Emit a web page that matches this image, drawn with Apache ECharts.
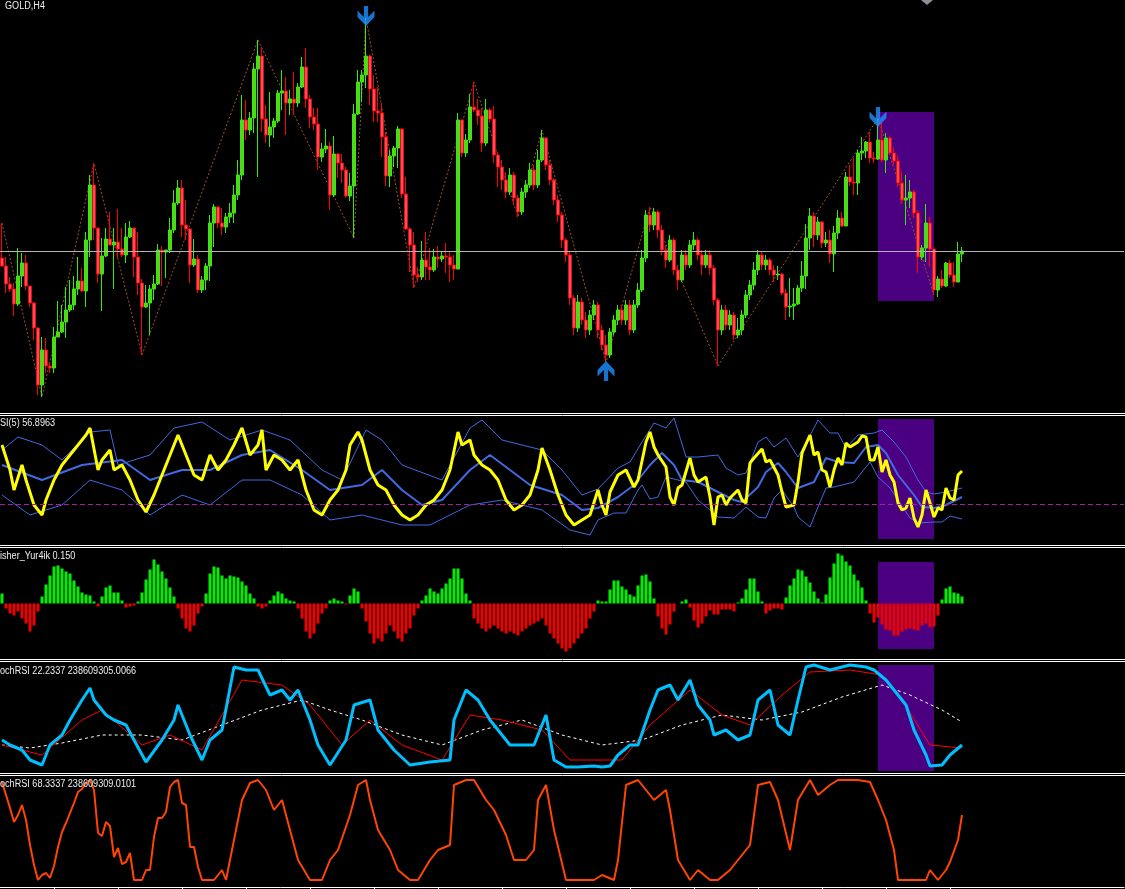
<!DOCTYPE html>
<html>
<head>
<meta charset="utf-8">
<title>GOLD,H4</title>
<script src="https://cdn.jsdelivr.net/npm/echarts/dist/echarts.min.js"></script>
<style>
html, body { margin: 0; padding: 0; background: #000; }
#chart { width: 1125px; height: 889px; }
</style>
</head>
<body>
<div id="chart"></div>
<script>
// bars on the chart + empty slots to the right (chart shift)
var N_BARS = 241;
var N_SLOTS = 281;
var categories = [];
for (var s = 0; s < N_SLOTS; s++) categories.push(String(s));

// --- main window: prices read as rows from the top of the window (0..413)
var MAIN_H = 413;
var firstOpen = 258;
var closeRow = [
  266,284,289,304,276,263,286,303,328,385,
  350,366,368,337,332,322,310,305,289,281,
  291,240,185,228,274,256,239,245,242,249,
  255,237,228,257,283,307,303,289,284,250,
  252,250,230,203,188,225,229,265,259,290,
  280,266,223,207,223,227,217,213,195,175,
  120,130,118,69,56,119,135,127,121,93,
  91,103,99,103,87,67,99,117,124,157,
  149,146,195,154,163,170,196,186,114,82,
  75,56,89,111,113,137,176,156,148,129,
  194,229,245,275,277,260,267,270,257,259,
  256,257,265,269,120,153,140,107,110,116,
  143,110,119,155,167,180,192,175,198,212,
  192,185,170,185,160,138,165,180,200,215,
  240,255,298,328,302,320,330,315,305,330,
  345,355,332,320,310,320,305,330,305,290,
  258,215,225,212,230,250,260,240,270,280,
  255,265,245,240,255,265,255,268,300,330,
  310,325,315,335,330,315,295,285,270,255,
  265,260,270,275,274,293,307,306,304,288,
  276,238,216,235,222,243,240,254,233,218,
  226,177,182,183,153,151,142,158,159,140,
  160,138,153,161,183,200,198,192,213,257,
  248,223,249,290,279,286,263,275,282,254,251
];
var highRow = [
  223,257,277,283,248,253,255,287,302,327,
  337,338,362,327,301,305,287,280,276,257,
  268,232,175,163,228,238,228,212,228,209,
  228,223,221,228,232,279,285,285,275,244,
  246,250,218,190,180,180,200,228,239,255,
  276,263,215,204,206,208,213,203,185,160,
  95,100,112,63,40,47,105,92,118,90,
  70,77,90,72,83,57,48,95,108,108,
  143,129,142,136,153,154,167,173,104,70,
  70,18,55,75,87,103,132,150,146,126,
  128,177,227,232,267,241,232,248,249,246,
  252,243,251,255,113,120,134,94,82,99,
  108,99,108,106,152,160,172,168,172,195,
  188,180,163,165,150,130,138,160,178,195,
  212,238,252,295,295,298,312,310,300,302,
  325,335,328,315,305,305,300,300,300,283,
  250,210,207,208,210,225,245,235,238,265,
  250,250,240,232,238,250,250,250,265,298,
  305,305,310,312,318,310,290,280,262,250,
  252,255,258,265,266,273,289,278,288,285,
  261,224,208,212,217,221,232,230,226,210,
  212,172,165,158,150,137,141,132,152,118,
  122,133,136,147,155,171,175,180,190,210,
  245,204,217,247,276,270,262,260,262,242,247
];
var lowRow = [
  267,293,292,316,306,287,290,307,340,395,
  397,373,373,373,337,333,338,312,310,295,
  292,307,257,240,283,311,257,245,289,258,
  257,263,238,277,295,355,308,335,300,285,
  286,278,253,233,205,237,240,283,267,293,
  293,290,281,247,228,235,233,223,223,200,
  180,140,135,133,177,132,143,147,138,123,
  110,135,115,115,107,88,108,128,130,170,
  162,153,210,197,178,183,198,201,238,115,
  102,88,105,122,122,157,186,187,167,168,
  198,230,272,288,282,280,280,280,272,268,
  262,273,282,280,269,157,157,143,112,125,
  152,146,123,163,187,190,198,195,205,217,
  215,198,188,190,188,162,170,185,205,222,
  248,262,305,335,332,325,338,335,320,338,
  350,362,358,335,325,325,325,335,333,308,
  292,262,232,230,238,255,268,262,275,290,
  282,270,268,250,260,275,268,275,305,366,
  335,330,330,340,338,335,318,300,290,275,
  270,270,275,282,280,295,320,317,320,305,
  292,289,250,247,240,248,247,263,272,239,
  227,224,186,195,195,160,158,163,163,160,
  162,173,155,165,187,204,225,208,218,273,
  260,262,267,295,297,288,287,278,287,281,262
];
// zigzag pivots: bar index, H = high / L = low
var zigzagPivots = [[0,'H'],[10,'L'],[23,'H'],[35,'L'],[64,'H'],[88,'L'],[91,'H'],[103,'L'],
  [118,'H'],[129,'L'],[135,'H'],[151,'L'],[162,'H'],[179,'L'],[219,'H'],[233,'L']];
// signal arrows: bar index, direction, offset in px
var arrowMarks = [[91,'down',-2],[151,'up',9],[219,'down',-1]];
var boxFrom = 219, boxTo = 233;

// --- RSI window (rows 416..545)
var rsiLine = [[0,445],[2,470],[3,490],[5,465],[6,480],[8,505],[10,515],[11,500],[13,480],[15,465],[17,455],[19,445],[21,435],[22,428],[24,470],[25,460],[27,450],[28,470],[30,465],[32,480],[34,500],[36,512],[38,495],[40,475],[42,455],[44,435],[46,455],[48,475],[50,480],[52,455],[54,470],[56,460],[58,445],[60,428],[62,455],[64,445],[65,430],[66,470],[68,455],[70,460],[72,470],[74,460],[76,490],[78,510],[80,515],[82,500],[84,490],[86,470],[87,445],[89,432],[90,440],[92,470],[94,485],[96,490],[98,505],[100,515],[102,520],[104,515],[106,505],[108,500],[110,490],[112,470],[114,432],[115,445],[117,440],[118,455],[120,465],[122,470],[124,480],[126,500],[128,510],[130,505],[132,495],[134,470],[135,448],[137,470],[139,495],[141,515],[143,525],[145,520],[147,515],[149,490],[150,505],[151,515],[152,492],[154,475],[156,470],[158,487],[159,480],[161,442],[162,432],[163,447],[164,455],[166,467],[167,497],[168,505],[169,488],[170,485],[172,458],[173,475],[174,482],[176,477],[177,497],[178,525],[179,497],[180,495],[181,505],[182,498],[184,490],[185,500],[186,503],[187,463],[188,458],[190,449],[191,462],[192,460],[194,475],[195,492],[196,507],[198,505],[199,482],[200,453],[202,435],[203,455],[204,452],[205,470],[206,472],[207,487],[208,470],[209,458],[210,465],[211,443],[212,447],[214,442],[215,436],[216,437],[217,460],[218,460],[219,447],[220,472],[221,460],[222,475],[223,482],[224,503],[225,510],[226,508],[227,498],[228,518],[229,527],[230,515],[231,490],[232,503],[233,517],[234,508],[235,510],[236,488],[237,498],[238,500],[239,475],[240,471]];
var rsiMa = [[0,465],[10,480],[20,465],[30,460],[37,480],[45,470],[52,470],[60,455],[67,450],[75,470],[82,490],[90,485],[95,470],[100,490],[105,505],[110,500],[117,470],[122,455],[127,470],[132,485],[140,495],[145,510],[149,508],[154,497],[158,485],[162,465],[165,453],[168,465],[170,480],[174,482],[179,492],[183,500],[185,502],[189,487],[191,472],[194,463],[196,472],[199,488],[203,482],[206,458],[209,462],[213,463],[216,447],[219,445],[221,453],[224,475],[228,495],[230,507],[233,508],[236,505],[240,497]];
var rsiUpper = [[0,450],[4,437],[10,445],[15,460],[22,432],[27,430],[29,465],[37,455],[43,428],[50,422],[57,440],[65,430],[72,440],[80,470],[85,480],[91,430],[95,440],[100,465],[110,480],[117,428],[120,420],[125,440],[135,450],[140,470],[145,495],[149,489],[154,468],[157,462],[160,442],[163,423],[166,428],[168,418],[171,457],[174,457],[179,455],[181,468],[184,475],[186,473],[189,442],[191,437],[193,447],[196,438],[199,457],[203,428],[204,420],[207,433],[209,433],[211,448],[214,435],[218,433],[220,430],[223,442],[226,457],[229,480],[231,492],[233,494],[236,492],[240,488]];
var rsiLower = [[0,495],[7,515],[15,505],[22,480],[30,490],[37,515],[45,495],[52,505],[60,480],[67,480],[75,495],[82,520],[90,515],[100,525],[107,525],[117,505],[125,500],[135,510],[142,530],[147,535],[149,520],[153,513],[156,513],[159,490],[160,485],[162,499],[164,497],[166,477],[171,482],[174,500],[177,510],[179,517],[183,518],[186,507],[189,517],[191,518],[193,498],[195,490],[198,507],[199,517],[202,527],[204,507],[206,488],[208,487],[213,482],[215,472],[217,462],[219,477],[222,488],[224,500],[227,518],[229,523],[233,522],[235,522],[237,516],[240,519]];
var rsiLevel = 504;

// --- Fisher_Yur4ik histogram (bar heights, px above/below zero)
var fisherBars = [
  10,-5,-10,-12,-8,-15,-20,-28,-22,-8,
  7,19,28,37,38,35,32,30,23,17,
  11,9,8,2,-3,7,16,18,11,11,
  3,-4,-3,-2,2,11,24,34,44,39,
  32,25,16,7,-5,-15,-25,-28,-22,-10,
  -3,10,30,37,36,28,25,28,27,26,
  22,18,10,5,-3,-5,-3,3,8,12,
  10,5,3,2,-5,-15,-28,-35,-30,-20,
  -10,-5,3,5,3,2,-1,8,15,12,
  -5,-18,-30,-40,-35,-38,-30,-22,-28,-35,
  -38,-30,-25,-12,-5,3,8,15,12,10,
  15,20,25,35,35,25,10,3,-15,-20,
  -25,-28,-25,-22,-25,-28,-30,-28,-30,-32,
  -28,-25,-22,-20,-18,-15,-22,-30,-35,-40,
  -45,-48,-45,-40,-35,-30,-25,-15,-8,3,
  2,2,14,23,23,17,14,9,7,18,
  28,29,22,5,-13,-25,-31,-21,-8,0,
  2,4,-4,-17,-24,-20,-13,-7,-11,-11,
  -6,-6,-6,-8,1,5,14,25,25,12,
  2,-10,-7,-5,-5,-6,6,18,25,34,
  33,27,21,12,5,1,9,26,40,50,
  48,42,38,29,23,16,3,-10,-19,-14,
  -21,-26,-27,-32,-32,-28,-26,-25,-26,-27,
  -22,-20,-24,-23,-12,4,15,17,11,10,7
];
var FISHER_SPAN = 55.5;

// --- StochRSI window (rows 662..773)
var stochMain = [[0,740],[2,745],[5,750],[7,760],[10,765],[12,745],[15,735],[17,720],[20,700],[22,688],[23,700],[26,715],[28,720],[31,725],[33,740],[36,762],[40,740],[43,720],[44,705],[47,735],[50,760],[52,740],[55,730],[58,667],[61,670],[64,670],[67,695],[70,690],[72,700],[74,690],[77,720],[79,745],[82,765],[86,740],[88,705],[92,700],[94,730],[98,750],[102,765],[107,762],[112,760],[113,720],[116,690],[119,700],[122,720],[124,730],[127,745],[131,745],[133,745],[136,715],[138,760],[141,767],[144,767],[148,766],[150,767],[152,766],[154,755],[157,745],[159,745],[162,710],[164,690],[167,685],[169,700],[172,680],[174,705],[177,720],[178,735],[181,730],[184,740],[187,735],[189,700],[192,690],[194,725],[197,735],[199,700],[201,667],[203,665],[207,670],[212,665],[216,667],[218,670],[221,680],[223,690],[226,705],[228,730],[231,755],[232,766],[235,765],[237,755],[240,745]];
var stochSignal = [[0,745],[10,755],[20,720],[25,710],[35,745],[42,735],[50,750],[60,680],[70,685],[77,705],[85,745],[92,720],[100,745],[110,760],[117,715],[125,720],[135,730],[142,760],[155,760],[162,725],[172,690],[180,715],[187,725],[195,695],[202,672],[212,670],[220,675],[225,700],[232,745],[240,748]];
var stochSlow = [[0,745],[7,748],[15,743],[25,735],[35,735],[45,740],[55,725],[65,710],[75,700],[82,710],[90,720],[100,735],[110,745],[120,730],[130,720],[140,735],[150,745],[160,740],[170,725],[180,715],[190,720],[200,712],[210,697],[220,685],[227,695],[235,710],[240,722]];

// --- second StochRSI window (rows 776..887)
var stoch2 = [[0,782],[1,795],[2,808],[3,822],[4,815],[5,805],[6,820],[7,845],[8,865],[9,880],[10,875],[11,873],[12,878],[13,866],[14,847],[15,832],[16,823],[17,813],[18,803],[19,792],[20,789],[21,783],[22,780],[23,790],[24,833],[25,836],[26,822],[27,826],[28,857],[29,848],[30,864],[31,862],[32,853],[33,880],[34,880],[35,880],[36,870],[37,870],[38,837],[39,818],[40,818],[41,812],[42,787],[43,782],[44,780],[45,803],[46,805],[47,847],[48,847],[49,867],[50,880],[51,880],[53,880],[55,870],[56,880],[58,840],[60,800],[62,783],[64,780],[66,790],[68,810],[70,800],[72,830],[74,860],[77,880],[80,880],[82,860],[84,850],[87,815],[89,785],[91,780],[92,800],[94,830],[97,850],[99,870],[102,880],[104,880],[107,860],[109,850],[112,845],[113,785],[116,780],[118,780],[121,800],[123,810],[126,835],[128,860],[131,860],[133,850],[134,800],[136,785],[138,830],[141,880],[144,880],[148,880],[150,875],[153,880],[154,860],[156,785],[159,780],[162,795],[163,800],[166,790],[167,810],[169,860],[172,880],[174,870],[177,880],[179,880],[182,870],[184,860],[187,845],[189,785],[192,782],[194,800],[197,850],[199,800],[202,780],[204,795],[207,785],[209,780],[214,780],[217,782],[219,800],[221,820],[223,850],[224,880],[228,880],[231,880],[232,870],[234,880],[236,870],[237,862],[239,840],[240,815]];

// build candles [open, close, low, high] in price units (up = higher)
var candles = [];
for (var i = 0; i < N_BARS; i++) {
  var o = i ? closeRow[i - 1] : firstOpen;
  var c = closeRow[i];
  var h = Math.min(highRow[i], o, c);
  var l = Math.max(lowRow[i], o, c);
  candles.push([MAIN_H - o, MAIN_H - c, MAIN_H - l, MAIN_H - h]);
}
var zigzag = zigzagPivots.map(function (p) {
  return [p[0], MAIN_H - (p[1] === 'H' ? highRow[p[0]] : lowRow[p[0]])];
});
var ARROW_DOWN = 'path://M6,0 L10,0 L10,10 L16,4 L16,10 L8,18 L0,10 L0,4 L6,10 Z';
var ARROW_UP = 'path://M6,18 L10,18 L10,8 L16,14 L16,8 L8,0 L0,8 L0,14 L6,8 Z';
var arrows = arrowMarks.map(function (a) {
  var row = a[1] === 'down' ? highRow[a[0]] : lowRow[a[0]];
  return {
    value: [a[0], MAIN_H - row],
    symbol: a[1] === 'down' ? ARROW_DOWN : ARROW_UP,
    symbolOffset: [0, a[2]]
  };
});

var grids = [
  { top: 0, height: 413 },
  { top: 416, height: 129 },
  { top: 548, height: 111 },
  { top: 662, height: 111 },
  { top: 776, height: 111 }
].map(function (g) { g.left = 0; g.width = 1124; return g; });

var xAxes = grids.map(function (g, k) {
  return {
    type: 'category', gridIndex: k, data: categories, boundaryGap: true,
    show: k === 4,
    axisLine: { show: true, lineStyle: { color: '#ffffff', width: 1 } },
    axisTick: {
      show: true, alignWithLabel: true, length: 3,
      interval: function (idx) { return idx <= 240 && idx % 16 === 13; },
      lineStyle: { color: '#ffffff' }
    },
    axisLabel: { show: false },
    splitLine: { show: false }
  };
});
var yAxes = [
  { gridIndex: 0, type: 'value', min: 0, max: MAIN_H, show: false },
  { gridIndex: 1, type: 'value', min: 416, max: 545, inverse: true, show: false },
  { gridIndex: 2, type: 'value', min: -FISHER_SPAN, max: FISHER_SPAN, show: false },
  { gridIndex: 3, type: 'value', min: 662, max: 773, inverse: true, show: false },
  { gridIndex: 4, type: 'value', min: 776, max: 887, inverse: true, show: false }
];

function boxSeries(k, y1, y2) {
  return {
    type: 'line', xAxisIndex: k, yAxisIndex: k, data: [], z: 1, silent: true,
    markArea: {
      silent: true, itemStyle: { color: '#4b0082' },
      data: [[{ xAxis: boxFrom, yAxis: y1 }, { xAxis: boxTo, yAxis: y2 }]]
    }
  };
}
function lineSeries(k, data, color, width, type, z) {
  return {
    type: 'line', xAxisIndex: k, yAxisIndex: k, data: data,
    showSymbol: false, silent: true, z: z || 3,
    lineStyle: { color: color, width: width, type: type || 'solid' }
  };
}

var noLabel = { show: false };
var labelFont = '10px "Liberation Sans", Arial, sans-serif';
function label(text, x, y) {
  return { type: 'text', x: x, y: y, scaleX: 0.91, z: 100,
    style: { text: text, x: 0, y: 0, fill: '#eeeeee', font: labelFont, verticalAlign: 'top', textVerticalAlign: 'top' } };
}
function sep(y) {
  return { type: 'line', z: 90, shape: { x1: 0, y1: y, x2: 1125, y2: y }, style: { stroke: '#ffffff', lineWidth: 1 } };
}

var option = {
  backgroundColor: '#000000',
  animation: false,
  grid: grids,
  xAxis: xAxes,
  yAxis: yAxes,
  series: [
    boxSeries(0, MAIN_H - 112, MAIN_H - 301),
    {
      type: 'candlestick', xAxisIndex: 0, yAxisIndex: 0, data: candles, barWidth: 3, z: 3, silent: true,
      itemStyle: { color: '#5ccc2e', color0: '#dd5c70', borderColor: '#33ee00', borderColor0: '#ff0000', borderWidth: 1 },
      markLine: {
        silent: true, symbol: 'none', label: noLabel,
        lineStyle: { color: '#b4b4b4', type: 'solid', width: 1 },
        data: [{ yAxis: MAIN_H - closeRow[N_BARS - 1] }]
      }
    },
    lineSeries(0, zigzag, '#a0522d', 1, [2, 2], 2),
    {
      type: 'scatter', xAxisIndex: 0, yAxisIndex: 0, data: arrows, symbolSize: [17, 20], z: 5, silent: true,
      itemStyle: { color: '#1e90ff' }
    },

    boxSeries(1, 419, 539),
    lineSeries(1, rsiUpper, '#4169e1', 1),
    lineSeries(1, rsiLower, '#4169e1', 1),
    lineSeries(1, rsiMa, '#4169e1', 2),
    Object.assign(lineSeries(1, rsiLine, '#ffff00', 3, 'solid', 4), {
      markLine: {
        silent: true, symbol: 'none', label: noLabel,
        lineStyle: { color: '#a020a0', type: [5, 3], width: 1 },
        data: [{ yAxis: rsiLevel }]
      }
    }),

    boxSeries(2, 603.5 - 562, 603.5 - 649),
    {
      type: 'bar', xAxisIndex: 2, yAxisIndex: 2, data: fisherBars, barWidth: 3, z: 3, silent: true,
      itemStyle: { color: function (p) { return p.value >= 0 ? '#00ee00' : '#ee0000'; } }
    },

    boxSeries(3, 665, 771),
    lineSeries(3, stochSlow, '#ffffff', 1, [3, 3]),
    lineSeries(3, stochSignal, '#ff0000', 1),
    lineSeries(3, stochMain, '#00bfff', 3, 'solid', 4),

    lineSeries(4, stoch2, '#ff4500', 2)
  ],
  graphic: [
    sep(413.5), sep(415.5), sep(545.5), sep(547.5), sep(659.5), sep(661.5), sep(773.5), sep(775.5),
    { type: 'polygon', z: 95, shape: { points: [[921, 0], [933, 0], [927, 5]] }, style: { fill: '#8a8f99' } },
    label('GOLD,H4', 5, 1.5),
    label('RSI(5) 56.8963', -6.6, 418),
    label('Fisher_Yur4ik 0.150', -5.6, 551),
    label('StochRSI 22.2337 238609305.0066', -8.6, 666),
    label('StochRSI 68.3337 238609309.0101', -8.6, 779)
  ]
};

var chart = echarts.init(document.getElementById('chart'));
chart.setOption(option);
</script>
</body>
</html>
